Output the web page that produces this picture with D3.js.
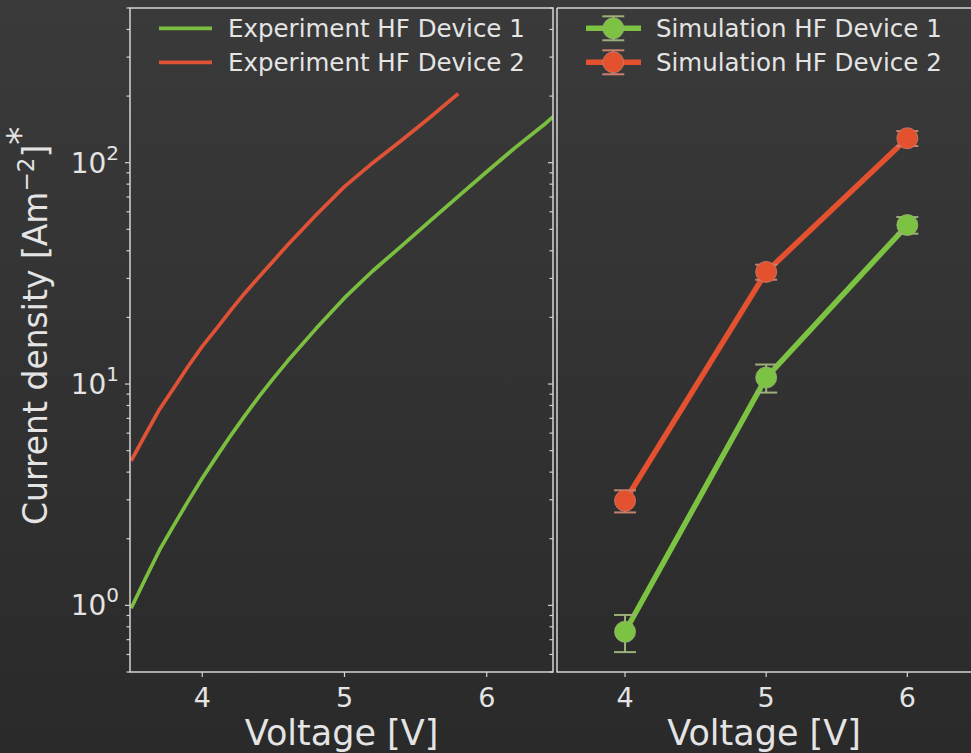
<!DOCTYPE html>
<html>
<head>
<meta charset="utf-8">
<script src="https://cdn.jsdelivr.net/npm/d3@7"></script>
<style>
  html, body { margin: 0; padding: 0; background: #333; }
  svg { display: block; }
  text { font-family: "DejaVu Sans", sans-serif; fill: #e4e4e4; }
</style>
</head>
<body>
<svg id="chart" width="971" height="753"></svg>
<script>
// ---------------- data ----------------
const expVoltage1 = [3.5,3.6,3.7,3.8,3.9,4.0,4.1,4.2,4.3,4.4,4.5,4.6,4.8,5.0,5.2,5.4,5.6,5.8,6.0,6.2,6.4,6.47];
const expDevice1  = [0.97,1.32,1.78,2.3,2.95,3.75,4.7,5.85,7.2,8.8,10.6,12.7,17.8,24.5,32.5,42,54.5,70.5,91,117,148,162];
const expVoltage2 = [3.5,3.6,3.7,3.8,3.9,4.0,4.1,4.2,4.3,4.4,4.5,4.6,4.8,5.0,5.2,5.4,5.6,5.8];
const expDevice2  = [4.5,5.9,7.7,9.6,12.0,14.8,17.8,21.5,25.8,30.5,36,42.5,58,78,100,126,160,205];
const simVoltage  = [4, 5, 6];
const simDevice1  = [0.76, 10.7, 52.3];
const simErr1     = [0.145, 1.55, 4.5];
const simDevice2  = [2.97, 32.1, 129];
const simErr2     = [0.34, 2.5, 10];
const xTicks      = [4, 5, 6];
const yMajorTicks = [1, 10, 100];
const yTickExps   = ["0", "1", "2"];
const legendLeft  = ["Experiment HF Device 1", "Experiment HF Device 2"];
const legendRight = ["Simulation HF Device 1", "Simulation HF Device 2"];
const xLabel = "Voltage [V]";

// ---------------- styles ----------------
const GREEN = "#7bbf40", RED = "#df5236";
const SIM_GREEN = "#7cc243", SIM_RED = "#e4512f";
const ERR_GREEN = "#9cb07a", ERR_RED = "#c9806d";
const SPINE = "#d4d4d4";

const svg = d3.select("#chart");
const defs = svg.append("defs");
const grad = defs.append("linearGradient").attr("id","bg").attr("x1",0).attr("y1",0).attr("x2",0).attr("y2",1);
grad.append("stop").attr("offset","0%").attr("stop-color","#3a3a3a");
grad.append("stop").attr("offset","100%").attr("stop-color","#2a2a2a");
svg.append("rect").attr("width",971).attr("height",753).attr("fill","url(#bg)");

const yTop = 8, yBot = 672;
const y = d3.scaleLog().domain([0.5, 500]).range([yBot, yTop]);
const xL = d3.scaleLinear().domain([3.492, 6.466]).range([130, 553]);
const xR = d3.scaleLinear().domain([3.518, 6.451]).range([557, 971]);

defs.append("clipPath").attr("id","clipL").append("rect").attr("x",130).attr("y",yTop).attr("width",423).attr("height",yBot-yTop);
defs.append("clipPath").attr("id","clipR").append("rect").attr("x",557).attr("y",yTop).attr("width",420).attr("height",yBot-yTop);

// minor tick values
const yMinor = [];
[0.1, 1, 10, 100].forEach(d => { for (let k = 2; k <= 9; k++) { const v = d*k; if (v >= 0.5 && v <= 500) yMinor.push(v); } });

// ---------------- lines ----------------
const lineL = d3.line().x(d => xL(d[0])).y(d => y(d[1]));
const gL = svg.append("g").attr("clip-path","url(#clipL)");
gL.append("path").datum(d3.zip(expVoltage1, expDevice1)).attr("d", lineL)
  .attr("fill","none").attr("stroke",GREEN).attr("stroke-width",3.7).attr("stroke-linejoin","round");
gL.append("path").datum(d3.zip(expVoltage2, expDevice2)).attr("d", lineL)
  .attr("fill","none").attr("stroke",RED).attr("stroke-width",3.7).attr("stroke-linejoin","round");

const lineR = d3.line().x(d => xR(d[0])).y(d => y(d[1]));
const gR = svg.append("g").attr("clip-path","url(#clipR)");
function simSeries(vals, errs, col, ecol) {
  const pts = d3.zip(simVoltage, vals, errs);
  gR.append("path").datum(pts).attr("d", lineR).attr("fill","none")
    .attr("stroke",col).attr("stroke-width",5.5).attr("stroke-linejoin","round");
  const eb = gR.append("g");
  pts.forEach(p => {
    const cx = xR(p[0]), y1 = y(p[1]+p[2]), y0 = y(p[1]-p[2]);
    eb.append("line").attr("x1",cx).attr("x2",cx).attr("y1",y1).attr("y2",y0).attr("stroke",ecol).attr("stroke-width",2);
    eb.append("line").attr("x1",cx-11).attr("x2",cx+11).attr("y1",y1).attr("y2",y1).attr("stroke",ecol).attr("stroke-width",2);
    eb.append("line").attr("x1",cx-11).attr("x2",cx+11).attr("y1",y0).attr("y2",y0).attr("stroke",ecol).attr("stroke-width",2);
  });
  pts.forEach(p => {
    gR.append("circle").attr("cx",xR(p[0])).attr("cy",y(p[1])).attr("r",10.5)
      .attr("fill",col).attr("stroke",ecol).attr("stroke-width",0.8);
  });
}
simSeries(simDevice2, simErr2, SIM_RED, ERR_RED);
simSeries(simDevice1, simErr1, SIM_GREEN, ERR_GREEN);

// ---------------- spines ----------------
const sp = svg.append("g").attr("stroke",SPINE).attr("stroke-width",1.5).attr("fill","none");
sp.append("rect").attr("x",130).attr("y",yTop).attr("width",423).attr("height",yBot-yTop);
sp.append("path").attr("d",`M557,${yTop}H975M557,${yTop}V${yBot}H975`);

// ---------------- ticks ----------------
const tk = svg.append("g").attr("stroke",SPINE).attr("stroke-width",1.2);
[130, 553].forEach(xx => {
  yMajorTicks.forEach(v => tk.append("line").attr("x1",xx-5).attr("x2",xx).attr("y1",y(v)).attr("y2",y(v)));
  yMinor.forEach(v => tk.append("line").attr("x1",xx-3.5).attr("x2",xx).attr("y1",y(v)).attr("y2",y(v)));
});
xTicks.forEach(v => {
  tk.append("line").attr("x1",xL(v)).attr("x2",xL(v)).attr("y1",yBot).attr("y2",yBot+5);
  tk.append("line").attr("x1",xR(v)).attr("x2",xR(v)).attr("y1",yBot).attr("y2",yBot+5);
});

// tick labels
yMajorTicks.forEach((v, i) => {
  const t = svg.append("text").attr("x",119).attr("y",y(v)+10).attr("text-anchor","end").attr("font-size",28);
  t.append("tspan").text("10");
  t.append("tspan").attr("font-size",20).attr("dy",-13).text(yTickExps[i]);
});
xTicks.forEach(v => {
  svg.append("text").attr("x",xL(v)).attr("y",707).attr("text-anchor","middle").attr("font-size",27).text(v);
  svg.append("text").attr("x",xR(v)).attr("y",707).attr("text-anchor","middle").attr("font-size",27).text(v);
});

// axis labels
svg.append("text").attr("x",(130+553)/2).attr("y",745).attr("text-anchor","middle").attr("font-size",35).text(xLabel);
svg.append("text").attr("x",(557+971)/2).attr("y",745).attr("text-anchor","middle").attr("font-size",35).text(xLabel);

const yl = svg.append("text").attr("transform","translate(47,525) rotate(-90)").attr("text-anchor","start").attr("font-size",33);
yl.append("tspan").text("Current density [Am");
yl.append("tspan").attr("font-size",23).attr("dy",-13).text("\u22122");
yl.append("tspan").attr("dy",13).text("]");
yl.append("tspan").attr("font-size",36).attr("dy",-15).text("*");

// ---------------- legends ----------------
const legRowsY = [28.3, 62.3];
legendLeft.forEach((name, i) => {
  svg.append("line").attr("x1",159).attr("x2",212).attr("y1",legRowsY[i]).attr("y2",legRowsY[i])
    .attr("stroke", i === 0 ? GREEN : RED).attr("stroke-width",3.7);
  svg.append("text").attr("x",228).attr("y",legRowsY[i]+8.5).attr("font-size",24.5).text(name);
});
legendRight.forEach((name, i) => {
  const col = i === 0 ? SIM_GREEN : SIM_RED, ecol = i === 0 ? ERR_GREEN : ERR_RED;
  const cy = legRowsY[i], cx = 613.3;
  svg.append("line").attr("x1",586).attr("x2",641).attr("y1",cy).attr("y2",cy).attr("stroke",col).attr("stroke-width",5.5);
  svg.append("line").attr("x1",cx).attr("x2",cx).attr("y1",cy-12).attr("y2",cy+12).attr("stroke",ecol).attr("stroke-width",2);
  svg.append("line").attr("x1",cx-11).attr("x2",cx+11).attr("y1",cy-12).attr("y2",cy-12).attr("stroke",ecol).attr("stroke-width",2);
  svg.append("line").attr("x1",cx-11).attr("x2",cx+11).attr("y1",cy+12).attr("y2",cy+12).attr("stroke",ecol).attr("stroke-width",2);
  svg.append("circle").attr("cx",cx).attr("cy",cy).attr("r",10.5).attr("fill",col).attr("stroke",ecol).attr("stroke-width",0.8);
  svg.append("text").attr("x",656).attr("y",cy+8.5).attr("font-size",24.5).text(name);
});
</script>
</body>
</html>
